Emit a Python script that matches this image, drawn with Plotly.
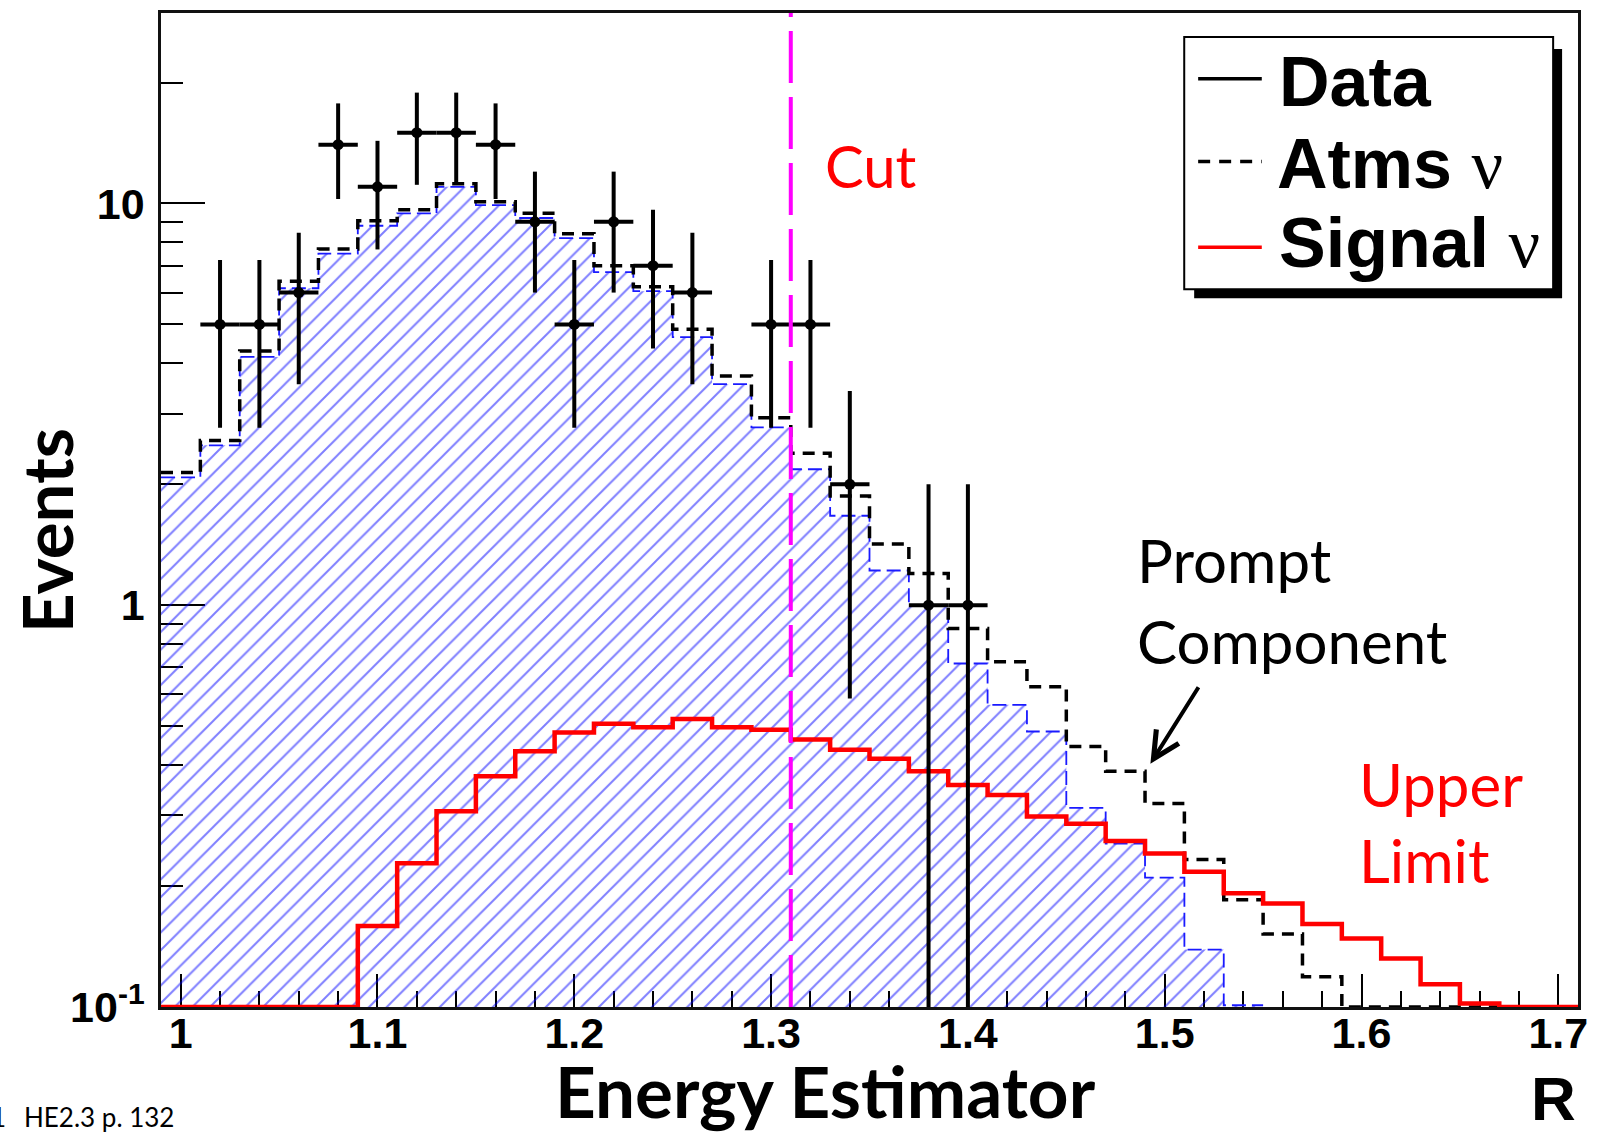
import numpy as np
import plotly.graph_objects as go

# ---------------------------------------------------------------------------
# Histogram binning: 36 bins of width 0.02 on the energy estimator R
# ---------------------------------------------------------------------------
BIN_LOW = 0.99
BIN_HIGH = 1.71
N_BINS = 36

# Bin centres 1.00 ... 1.70
BIN_CENTERS = [1.00, 1.02, 1.04, 1.06, 1.08, 1.10, 1.12, 1.14, 1.16, 1.18,
               1.20, 1.22, 1.24, 1.26, 1.28, 1.30, 1.32, 1.34, 1.36, 1.38,
               1.40, 1.42, 1.44, 1.46, 1.48, 1.50, 1.52, 1.54, 1.56, 1.58,
               1.60, 1.62, 1.64, 1.66, 1.68, 1.70]

# Observed events per bin
DATA_COUNTS = [0, 5, 5, 6, 14, 11, 15, 15, 14, 9,
               5, 9, 7, 6, 0, 5, 5, 2, 0, 1,
               1, 0, 0, 0, 0, 0, 0, 0, 0, 0,
               0, 0, 0, 0, 0, 0]

# Atmospheric neutrinos, conventional + prompt (black dashed)
ATMS_TOTAL = [2.14, 2.57, 4.29, 6.4, 7.7, 9.05, 9.65, 11.2, 10.1, 9.45,
              8.4, 7.0, 6.2, 4.86, 3.72, 2.93, 2.39, 1.87, 1.42, 1.20,
              0.875, 0.723, 0.627, 0.445, 0.386, 0.321, 0.233, 0.185, 0.152, 0.119,
              0.1, 0.1, 0.1, 0.1, 0.1, 0.1]

# Conventional atmospheric neutrinos only (blue hatched)
ATMS_CONV = [2.08, 2.50, 4.15, 6.15, 7.5, 8.8, 9.45, 11.0, 9.9, 9.2,
             8.2, 6.75, 6.05, 4.65, 3.55, 2.77, 2.18, 1.67, 1.22, 1.0,
             0.716, 0.565, 0.485, 0.313, 0.255, 0.21, 0.139, 0.101, 0, 0,
             0, 0, 0, 0, 0, 0]

# Signal neutrino upper limit (red)
SIGNAL = [0, 0, 0, 0, 0, 0.159, 0.228, 0.307, 0.375, 0.433,
          0.482, 0.507, 0.497, 0.521, 0.497, 0.49, 0.463, 0.437, 0.415, 0.386,
          0.357, 0.337, 0.298, 0.286, 0.259, 0.241, 0.217, 0.192, 0.181, 0.161,
          0.148, 0.132, 0.114, 0.102, 0, 0]

CUT_VALUE = 1.31

X_TICK_VALUES = [1.0, 1.1, 1.2, 1.3, 1.4, 1.5, 1.6, 1.7]
X_TICK_LABELS = ["1", "1.1", "1.2", "1.3", "1.4", "1.5", "1.6", "1.7"]
Y_TICK_VALUES = [0.1, 1, 10]
Y_TICK_LABELS = ["10<sup>-1</sup>", "1", "10"]
Y_MINOR_VALUES = [0.2, 0.3, 0.4, 0.5, 0.6, 0.7, 0.8, 0.9,
                  2, 3, 4, 5, 6, 7, 8, 9, 20]

Y_MIN = 0.1
Y_LOG_RANGE = [-1.0, 1.474]

# ---------------------------------------------------------------------------
# Canvas geometry (pixels)
# ---------------------------------------------------------------------------
W, H = 1598, 1132
ML, MR, MT, MB = 161, 12, 10, 125
PW = W - ML - MR
PH = H - MT - MB


def px(x):
    """Horizontal pixel -> paper coordinate."""
    return (x - ML) / PW


def py(y):
    """Vertical pixel (from top) -> paper coordinate."""
    return (H - MB - y) / PH


edges = np.linspace(BIN_LOW, BIN_HIGH, N_BINS + 1)


def step_xy(values):
    """Histogram outline: left edges plus the closing right edge, values held."""
    vals = list(values)
    return list(edges), vals + [vals[-1]]


def floor_at_min(values):
    # Bins below the axis floor are drawn on the floor, as ROOT does
    return [max(v, Y_MIN) for v in values]


fig = go.Figure()

# Conventional atmospheric: hatched fill with a thin dashed blue outline
n_conv = max(i for i, v in enumerate(ATMS_CONV) if v > 0) + 1
conv_x = list(edges[: n_conv + 1])
conv_y = list(ATMS_CONV[:n_conv]) + [ATMS_CONV[n_conv - 1]]
fig.add_trace(go.Scatter(
    x=conv_x, y=conv_y, mode="lines",
    line=dict(shape="hv", color="#1a1aff", width=1.8, dash="14px,6px"),
    fill="tozeroy", fillcolor="rgba(0,0,0,0)",
    fillpattern=dict(shape="/", fgcolor="#0000ff", size=12.5, solidity=0.16),
    hoverinfo="skip",
))

# Total atmospheric (black dashed)
tx, ty = step_xy(floor_at_min(ATMS_TOTAL))
fig.add_trace(go.Scatter(
    x=tx, y=ty, mode="lines",
    line=dict(shape="hv", color="black", width=3.5, dash="12px,8px"),
    hoverinfo="skip",
))

# Signal upper limit (red)
sx, sy = step_xy(floor_at_min(SIGNAL))
fig.add_trace(go.Scatter(
    x=sx, y=sy, mode="lines",
    line=dict(shape="hv", color="#ff0000", width=4.5),
    hoverinfo="skip",
))

# Data points with Poisson errors and bin-width horizontal bars
dx = [c for c, n in zip(BIN_CENTERS, DATA_COUNTS) if n > 0]
dy = [n for n in DATA_COUNTS if n > 0]
fig.add_trace(go.Scatter(
    x=dx, y=dy, mode="markers",
    marker=dict(symbol="circle", size=11, color="black"),
    error_y=dict(type="sqrt", color="black", thickness=4, width=0),
    error_x=dict(type="constant", value=(BIN_HIGH - BIN_LOW) / N_BINS / 2,
                 color="black", thickness=4, width=0),
    hoverinfo="skip",
))

shapes = []
# Cut line
shapes.append(dict(type="line", xref="x", yref="paper", x0=CUT_VALUE, x1=CUT_VALUE,
                   y0=0, y1=1, line=dict(color="#ff00ff", width=4, dash="52px,14px"),
                   layer="above"))

# Legend box with drop shadow
LEG_L, LEG_T, LEG_R, LEG_B = 1190, 34, 1561, 287
shapes.append(dict(type="rect", xref="paper", yref="paper",
                   x0=px(LEG_L + 10), x1=px(LEG_R + 9), y0=py(LEG_B + 9), y1=py(LEG_T + 12),
                   fillcolor="black", line=dict(width=0), layer="above"))
shapes.append(dict(type="rect", xref="paper", yref="paper",
                   x0=px(LEG_L), x1=px(LEG_R), y0=py(LEG_B), y1=py(LEG_T),
                   fillcolor="white", line=dict(color="black", width=2), layer="above"))
legend_rows = [
    (76, dict(color="black", width=3.5)),
    (159, dict(color="black", width=3.5, dash="12px,9px")),
    (245, dict(color="#ff0000", width=3.5)),
]
for yrow, ln in legend_rows:
    shapes.append(dict(type="line", xref="paper", yref="paper",
                       x0=px(1204), x1=px(1268), y0=py(yrow), y1=py(yrow),
                       line=ln, layer="above"))

NU = "<span style='font-family:\"Liberation Serif\";font-weight:normal'>ν</span>"
LEG_FONT = dict(family="Liberation Sans, Arial, sans-serif", size=70, color="black")
CALLOUT = "Lato, 'Open Sans', sans-serif"

annotations = [
    dict(text="<b>Data</b>", x=px(1283), y=py(79)),
    dict(text="<b>Atms</b> " + NU, x=px(1281), y=py(161)),
    dict(text="<b>Signal</b> " + NU, x=px(1283), y=py(241)),
]
for a in annotations:
    a.update(xref="paper", yref="paper", xanchor="left", yanchor="middle",
             showarrow=False, font=LEG_FONT)

annotations += [
    dict(text="Cut", x=px(827), y=py(163), xref="paper", yref="paper",
         xanchor="left", yanchor="middle", showarrow=False,
         font=dict(family=CALLOUT, size=58, color="#ff0000")),
    dict(text="Prompt", x=px(1141), y=py(559), xref="paper", yref="paper",
         xanchor="left", yanchor="middle", showarrow=False,
         font=dict(family=CALLOUT, size=60, color="black")),
    dict(text="Component", x=px(1141), y=py(640), xref="paper", yref="paper",
         xanchor="left", yanchor="middle", showarrow=False,
         font=dict(family=CALLOUT, size=60, color="black")),
    dict(text="Upper", x=px(1364), y=py(783), xref="paper", yref="paper",
         xanchor="left", yanchor="middle", showarrow=False,
         font=dict(family=CALLOUT, size=60, color="#ff0000")),
    dict(text="Limit", x=px(1364), y=py(860), xref="paper", yref="paper",
         xanchor="left", yanchor="middle", showarrow=False,
         font=dict(family=CALLOUT, size=60, color="#ff0000")),
    # arrow pointing at the prompt excess
    dict(text="", x=px(1156), y=py(763), xref="paper", yref="paper",
         ax=49, ay=-78, showarrow=True, arrowhead=5, arrowsize=1.3,
         arrowwidth=4, arrowcolor="black"),
    # axis titles
    dict(text="<b>Energy Estimator</b>", x=px(829), y=py(1091), xref="paper", yref="paper",
         xanchor="center", yanchor="middle", showarrow=False,
         font=dict(family=CALLOUT, size=71, color="black")),
    dict(text="<b>Events</b>", x=px(46), y=py(529), xref="paper", yref="paper",
         xanchor="center", yanchor="middle", showarrow=False, textangle=-90,
         font=dict(family=CALLOUT, size=69, color="black")),
    dict(text="<b>R</b>", x=px(1561), y=py(1099), xref="paper", yref="paper",
         xanchor="center", yanchor="middle", showarrow=False,
         font=dict(family="Liberation Sans, Arial, sans-serif", size=62, color="black")),
    # page reference in the corner
    dict(text="1", x=px(7), y=py(1117), xref="paper", yref="paper",
         xanchor="right", yanchor="middle", showarrow=False,
         font=dict(family=CALLOUT, size=26, color="black")),
    dict(text="HE2.3 p. 132", x=px(21), y=py(1117), xref="paper", yref="paper",
         xanchor="left", yanchor="middle", showarrow=False,
         font=dict(family=CALLOUT, size=26, color="black")),
]

TICK_FONT = dict(family="Liberation Sans, Arial, sans-serif", size=43, color="black",
                 weight="bold")

fig.update_layout(
    width=W, height=H, autosize=False,
    margin=dict(l=ML, r=MR, t=MT, b=MB, pad=0),
    paper_bgcolor="white", plot_bgcolor="white",
    showlegend=False,
    shapes=shapes, annotations=annotations,
    xaxis=dict(
        range=[BIN_LOW, BIN_HIGH], showgrid=False, zeroline=False,
        showline=True, linecolor="#111111", linewidth=2.5, mirror=True,
        ticks="inside", ticklen=33, tickwidth=2, tickcolor="black",
        tickmode="array", tickvals=X_TICK_VALUES, ticktext=X_TICK_LABELS,
        minor=dict(ticks="inside", ticklen=16, tickwidth=2, tickcolor="black",
                   dtick=0.02, tick0=1.0, showgrid=False),
        tickfont=TICK_FONT, ticklabelstandoff=-13, layer="below traces",
    ),
    yaxis=dict(
        type="log", range=Y_LOG_RANGE, showgrid=False, zeroline=False,
        showline=True, linecolor="#111111", linewidth=2.5, mirror=True,
        ticks="inside", ticklen=44, tickwidth=2, tickcolor="black",
        tickmode="array", tickvals=Y_TICK_VALUES, ticktext=Y_TICK_LABELS,
        minor=dict(ticks="inside", ticklen=22, tickwidth=2, tickcolor="black",
                   tickmode="array", tickvals=Y_MINOR_VALUES, showgrid=False),
        tickfont=TICK_FONT, ticklabelstandoff=5, layer="below traces",
    ),
)

fig.write_html("out.html")
